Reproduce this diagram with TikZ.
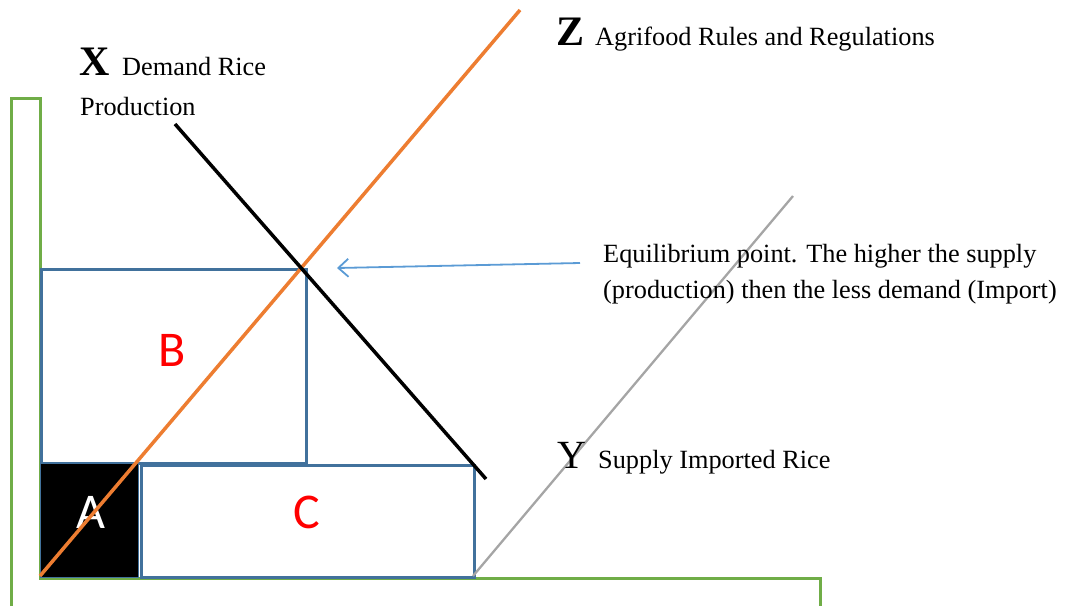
\documentclass[tikz,border=0pt]{standalone}
\usepackage{fontspec}
\setmainfont{Liberation Serif}
\newfontfamily\calib{Carlito}
\usetikzlibrary{arrows.meta}
\definecolor{axisgreen}{HTML}{70AD47}
\definecolor{boxblue}{HTML}{41719C}
\definecolor{zorange}{HTML}{ED7D31}
\definecolor{ygray}{HTML}{A5A5A5}
\definecolor{arrblue}{HTML}{5B9BD5}
\tikzset{
  boxline/.style={draw=boxblue, line width=2.6pt},
  lbl/.style={anchor=base west, inner sep=0pt, font=\fontsize{26.3}{30}\selectfont},
  bigletter/.style={anchor=base west, inner sep=0pt, font=\fontsize{42}{46}\selectfont\bfseries},
  region/.style={inner sep=0pt, font=\calib\fontsize{50}{54}\selectfont}
}
\begin{document}
\begin{tikzpicture}[x=1pt,y=-1pt]
\useasboundingbox (0,0) rectangle (1065,606);
% axes
\draw[axisgreen, line width=3pt] (11,606) -- (11,98) -- (40,98) -- (40,578) -- (820,578) -- (820,606);
% boxes
\node[boxline, minimum width=265pt, minimum height=194pt, inner sep=0pt, anchor=north west] (B) at (40,268) {};
\node[draw=boxblue, fill=black, line width=1pt, minimum width=98pt, minimum height=114pt, inner sep=0pt, anchor=north west] (A) at (40,463) {};
\node[boxline, minimum width=333pt, minimum height=112pt, inner sep=0pt, anchor=north west] (C) at (140,464) {};
\node[region, text=red] at (172,350) {B};
\node[region, text=white] at (91,512) {A};
\node[region, text=red] at (307,512) {C};
% curves
\coordinate (z0) at (40,576);
\coordinate (z1) at (520,10);
\coordinate (x0) at (175,124);
\coordinate (x1) at (486,479);
\coordinate (y0) at (473,576);
\coordinate (y1) at (793,196);
\draw[zorange, line width=3.5pt] (z0) -- (z1);
\draw[black, line width=3.5pt] (x0) -- (x1);
\draw[ygray, line width=2.3pt] (y0) -- (y1);
% labels
\node[bigletter] (X) at (79,75) {X};
\node[lbl] (Xt) at (122,75) {Demand Rice};
\node[lbl] (Xt2) at (80,115) {Production};
\node[bigletter] (Z) at (556,45) {Z};
\node[lbl] (Zt) at (595,45) {Agrifood Rules and Regulations};
\node[anchor=base west, inner sep=0pt, font=\fontsize{40}{44}\selectfont] (Y) at (557,468) {Y};
\node[lbl] (Yt) at (598,468) {Supply Imported Rice};
\node[lbl] (E1) at (603,262) {Equilibrium point. The higher the supply};
\node[lbl] (E2) at (603,298) {(production) then the less demand (Import)};
\coordinate (eq) at (337,268);
\coordinate (arrstart) at (580,263);
\draw[arrblue, line width=1.8pt, -{Straight Barb[length=10pt, width=18pt]}] (arrstart) -- (eq);
\end{tikzpicture}
\end{document}
